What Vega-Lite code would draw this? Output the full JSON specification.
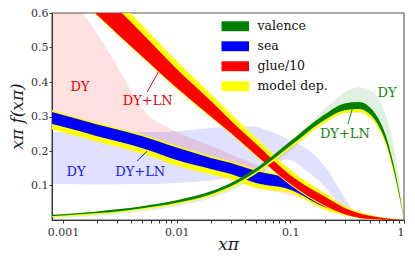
{
  "$schema": "https://vega.github.io/schema/vega-lite/v6.json",
  "width": 352,
  "height": 207,
  "autosize": {"type": "none"},
  "padding": {"left": 52, "top": 13, "right": 11, "bottom": 40},
  "config": {
    "font": "DejaVu Serif",
    "view": {"stroke": "#8c8c8c", "strokeWidth": 1.6},
    "axis": {"domainColor": "#333", "tickColor": "#333", "labelColor": "#333", "labelFont": "DejaVu Serif", "labelFontSize": 11, "grid": false, "titleFont": "DejaVu Serif", "titleFontStyle": "italic", "titleFontWeight": "normal", "titleColor": "#222"},
    "legend": {"labelFont": "DejaVu Serif"}
  },
  "datasets": {
    "pink": [
      {"x": 0.0008, "lo": 0.28, "hi": 0.73}, {"x": 0.001, "lo": 0.27, "hi": 0.68}, {"x": 0.0015, "lo": 0.258, "hi": 0.6},
      {"x": 0.00225, "lo": 0.243, "hi": 0.513}, {"x": 0.0034, "lo": 0.225, "hi": 0.414}, {"x": 0.0048, "lo": 0.208, "hi": 0.328},
      {"x": 0.0093, "lo": 0.172, "hi": 0.261}, {"x": 0.02, "lo": 0.135, "hi": 0.215}, {"x": 0.03, "lo": 0.115, "hi": 0.19},
      {"x": 0.05, "lo": 0.095, "hi": 0.16}, {"x": 0.1, "lo": 0.072, "hi": 0.11}, {"x": 0.2, "lo": 0.04, "hi": 0.062},
      {"x": 0.3, "lo": 0.022, "hi": 0.036}, {"x": 0.5, "lo": 0.008, "hi": 0.013}, {"x": 0.7, "lo": 0.003, "hi": 0.004}, {"x": 1, "lo": 0, "hi": 0}
    ],
    "lightblue": [
      {"x": 0.0008, "lo": 0.105, "hi": 0.255}, {"x": 0.001, "lo": 0.104, "hi": 0.255}, {"x": 0.002, "lo": 0.103, "hi": 0.255},
      {"x": 0.005, "lo": 0.104, "hi": 0.255}, {"x": 0.0085, "lo": 0.106, "hi": 0.256}, {"x": 0.0166, "lo": 0.112, "hi": 0.264},
      {"x": 0.03, "lo": 0.125, "hi": 0.27}, {"x": 0.046, "lo": 0.145, "hi": 0.272}, {"x": 0.065, "lo": 0.16, "hi": 0.258},
      {"x": 0.084, "lo": 0.172, "hi": 0.243}, {"x": 0.093, "lo": 0.175, "hi": 0.235}, {"x": 0.14, "lo": 0.142, "hi": 0.206},
      {"x": 0.21, "lo": 0.09, "hi": 0.148}, {"x": 0.27, "lo": 0.045, "hi": 0.09}, {"x": 0.36, "lo": 0.015, "hi": 0.026}, {"x": 0.42, "lo": 0.004, "hi": 0.005}
    ],
    "lightgreen": [
      {"x": 0.0008, "lo": 0.003, "hi": 0.01}, {"x": 0.001, "lo": 0.005, "hi": 0.012}, {"x": 0.002, "lo": 0.012, "hi": 0.02},
      {"x": 0.003, "lo": 0.017, "hi": 0.026}, {"x": 0.005, "lo": 0.025, "hi": 0.035}, {"x": 0.01, "lo": 0.04, "hi": 0.05},
      {"x": 0.02, "lo": 0.064, "hi": 0.076}, {"x": 0.03, "lo": 0.085, "hi": 0.098}, {"x": 0.05, "lo": 0.125, "hi": 0.142},
      {"x": 0.1, "lo": 0.2, "hi": 0.23}, {"x": 0.2, "lo": 0.28, "hi": 0.32}, {"x": 0.3, "lo": 0.31, "hi": 0.37},
      {"x": 0.4, "lo": 0.31, "hi": 0.385}, {"x": 0.5, "lo": 0.295, "hi": 0.377}, {"x": 0.6, "lo": 0.265, "hi": 0.35},
      {"x": 0.7, "lo": 0.22, "hi": 0.3}, {"x": 0.8, "lo": 0.155, "hi": 0.225}, {"x": 0.9, "lo": 0.08, "hi": 0.125}, {"x": 1, "lo": 0, "hi": 0}
    ],
    "glue": [
      {"x": 0.0008, "lo": 0.72, "hi": 0.8}, {"x": 0.001, "lo": 0.69, "hi": 0.77}, {"x": 0.002, "lo": 0.594, "hi": 0.675},
      {"x": 0.003, "lo": 0.54, "hi": 0.614}, {"x": 0.005, "lo": 0.473, "hi": 0.54}, {"x": 0.01, "lo": 0.383, "hi": 0.438},
      {"x": 0.02, "lo": 0.3, "hi": 0.345}, {"x": 0.03, "lo": 0.252, "hi": 0.288}, {"x": 0.05, "lo": 0.188, "hi": 0.22},
      {"x": 0.1, "lo": 0.104, "hi": 0.13}, {"x": 0.2, "lo": 0.042, "hi": 0.068}, {"x": 0.3, "lo": 0.017, "hi": 0.035},
      {"x": 0.5, "lo": 0.003, "hi": 0.012}, {"x": 0.7, "lo": 0.001, "hi": 0.004}, {"x": 1, "lo": 0, "hi": 0}
    ],
    "glueY": [
      {"x": 0.0008, "lo": 0.717, "hi": 0.825}, {"x": 0.001, "lo": 0.687, "hi": 0.795}, {"x": 0.002, "lo": 0.591, "hi": 0.7},
      {"x": 0.003, "lo": 0.537, "hi": 0.639}, {"x": 0.005, "lo": 0.47, "hi": 0.564}, {"x": 0.01, "lo": 0.38, "hi": 0.46},
      {"x": 0.02, "lo": 0.297, "hi": 0.365}, {"x": 0.03, "lo": 0.249, "hi": 0.307}, {"x": 0.05, "lo": 0.185, "hi": 0.238},
      {"x": 0.1, "lo": 0.101, "hi": 0.145}, {"x": 0.2, "lo": 0.039, "hi": 0.078}, {"x": 0.3, "lo": 0.015, "hi": 0.041},
      {"x": 0.5, "lo": 0.002, "hi": 0.015}, {"x": 0.7, "lo": 0.0005, "hi": 0.005}, {"x": 1, "lo": 0, "hi": 0}
    ],
    "sea": [
      {"x": 0.0008, "lo": 0.278, "hi": 0.313}, {"x": 0.001, "lo": 0.27, "hi": 0.304}, {"x": 0.002, "lo": 0.243, "hi": 0.277},
      {"x": 0.003, "lo": 0.228, "hi": 0.262}, {"x": 0.005, "lo": 0.208, "hi": 0.243}, {"x": 0.01, "lo": 0.174, "hi": 0.21},
      {"x": 0.02, "lo": 0.148, "hi": 0.18}, {"x": 0.03, "lo": 0.133, "hi": 0.165}, {"x": 0.05, "lo": 0.107, "hi": 0.142},
      {"x": 0.1, "lo": 0.088, "hi": 0.118}, {"x": 0.2, "lo": 0.038, "hi": 0.058}, {"x": 0.3, "lo": 0.02, "hi": 0.035},
      {"x": 0.5, "lo": 0.006, "hi": 0.013}, {"x": 0.7, "lo": 0.001, "hi": 0.004}, {"x": 1, "lo": 0, "hi": 0}
    ],
    "seaY": [
      {"x": 0.0008, "lo": 0.262, "hi": 0.318}, {"x": 0.001, "lo": 0.254, "hi": 0.309}, {"x": 0.002, "lo": 0.227, "hi": 0.282},
      {"x": 0.003, "lo": 0.212, "hi": 0.267}, {"x": 0.005, "lo": 0.192, "hi": 0.248}, {"x": 0.01, "lo": 0.158, "hi": 0.215},
      {"x": 0.02, "lo": 0.132, "hi": 0.185}, {"x": 0.03, "lo": 0.118, "hi": 0.17}, {"x": 0.05, "lo": 0.093, "hi": 0.147},
      {"x": 0.1, "lo": 0.078, "hi": 0.122}, {"x": 0.2, "lo": 0.03, "hi": 0.061}, {"x": 0.3, "lo": 0.014, "hi": 0.037},
      {"x": 0.5, "lo": 0.002, "hi": 0.014}, {"x": 0.7, "lo": 0, "hi": 0.005}, {"x": 1, "lo": 0, "hi": 0}
    ],
    "val": [
      {"x": 0.0008, "lo": 0.011, "hi": 0.015}, {"x": 0.001, "lo": 0.013, "hi": 0.017}, {"x": 0.002, "lo": 0.02, "hi": 0.025},
      {"x": 0.003, "lo": 0.025, "hi": 0.031}, {"x": 0.005, "lo": 0.034, "hi": 0.04}, {"x": 0.01, "lo": 0.05, "hi": 0.057},
      {"x": 0.02, "lo": 0.075, "hi": 0.083}, {"x": 0.03, "lo": 0.098, "hi": 0.107}, {"x": 0.05, "lo": 0.14, "hi": 0.15},
      {"x": 0.1, "lo": 0.215, "hi": 0.228}, {"x": 0.2, "lo": 0.29, "hi": 0.306}, {"x": 0.3, "lo": 0.318, "hi": 0.338},
      {"x": 0.4, "lo": 0.322, "hi": 0.342}, {"x": 0.5, "lo": 0.307, "hi": 0.327}, {"x": 0.6, "lo": 0.272, "hi": 0.292},
      {"x": 0.7, "lo": 0.222, "hi": 0.24}, {"x": 0.8, "lo": 0.153, "hi": 0.168}, {"x": 0.9, "lo": 0.077, "hi": 0.087}, {"x": 1, "lo": 0, "hi": 0}
    ],
    "valY": [
      {"x": 0.0008, "lo": 0.008, "hi": 0.014}, {"x": 0.001, "lo": 0.01, "hi": 0.016}, {"x": 0.002, "lo": 0.017, "hi": 0.024},
      {"x": 0.003, "lo": 0.022, "hi": 0.03}, {"x": 0.005, "lo": 0.031, "hi": 0.039}, {"x": 0.01, "lo": 0.046, "hi": 0.056},
      {"x": 0.02, "lo": 0.07, "hi": 0.082}, {"x": 0.03, "lo": 0.092, "hi": 0.106}, {"x": 0.05, "lo": 0.134, "hi": 0.149},
      {"x": 0.1, "lo": 0.208, "hi": 0.227}, {"x": 0.2, "lo": 0.282, "hi": 0.305}, {"x": 0.3, "lo": 0.31, "hi": 0.337},
      {"x": 0.4, "lo": 0.313, "hi": 0.341}, {"x": 0.5, "lo": 0.298, "hi": 0.326}, {"x": 0.6, "lo": 0.263, "hi": 0.291},
      {"x": 0.7, "lo": 0.213, "hi": 0.239}, {"x": 0.8, "lo": 0.146, "hi": 0.17}, {"x": 0.9, "lo": 0.072, "hi": 0.09}, {"x": 1, "lo": 0, "hi": 0}
    ]
  },
  "layer": [
    {"data": {"name": "pink"}, "mark": {"type": "area", "clip": true, "interpolate": "monotone", "color": "#ff0000", "opacity": 0.12},
     "encoding": {"x": {"field": "x", "type": "quantitative", "scale": {"type": "log", "domain": [0.0008, 1], "nice": false},
        "axis": {"values": [0.001, 0.002, 0.003, 0.004, 0.005, 0.006, 0.007, 0.008, 0.009, 0.01, 0.02, 0.03, 0.04, 0.05, 0.06, 0.07, 0.08, 0.09, 0.1, 0.2, 0.3, 0.4, 0.5, 0.6, 0.7, 0.8, 0.9, 1],
          "labelExpr": "indexof([0.001,0.01,0.1,1], datum.value) >= 0 ? (datum.value == 1 ? '1' : format(datum.value, '.3~f')) : ''",
          "tickSize": 3, "labelPadding": 3, "labelFontSize": 11, "labelOverlap": false, "title": "xπ", "titleFontSize": 17, "titleX": 176, "titleY": 29, "titleBaseline": "alphabetic", "titleAlign": "center"}},
       "y": {"field": "hi", "type": "quantitative", "scale": {"domain": [0, 0.6], "nice": false},
        "axis": {"values": [0.1, 0.2, 0.3, 0.4, 0.5, 0.6], "format": ".1f", "tickSize": 3, "labelPadding": 1, "title": "xπ f(xπ)", "titleFontSize": 17, "titleAngle": -90, "titleX": -35, "titleY": 103, "titleAlign": "center", "titleBaseline": "middle"}},
       "y2": {"field": "lo"}}},
    {"data": {"name": "lightblue"}, "mark": {"type": "area", "clip": true, "interpolate": "monotone", "color": "#0000ff", "opacity": 0.12},
     "encoding": {"x": {"field": "x", "type": "quantitative"}, "y": {"field": "hi", "type": "quantitative"}, "y2": {"field": "lo"}}},
    {"data": {"name": "lightgreen"}, "mark": {"type": "area", "clip": true, "interpolate": "monotone", "color": "#008000", "opacity": 0.12},
     "encoding": {"x": {"field": "x", "type": "quantitative"}, "y": {"field": "hi", "type": "quantitative"}, "y2": {"field": "lo"}}},
    {"data": {"name": "seaY"}, "mark": {"type": "area", "clip": true, "interpolate": "monotone"},
     "encoding": {"x": {"field": "x", "type": "quantitative"}, "y": {"field": "hi", "type": "quantitative"}, "y2": {"field": "lo"},
       "color": {"datum": "model dep.", "type": "nominal",
         "scale": {"domain": ["valence", "sea", "glue/10", "model dep."], "range": ["#008000", "#0000ff", "#ff0000", "#ffff00"]},
         "legend": {"orient": "none", "legendX": 177, "legendY": 7, "padding": 0, "title": null, "symbolType": "M-2.5,-0.9H2.5V0.9H-2.5Z", "symbolSize": 121, "symbolOpacity": 1, "symbolStrokeWidth": 0, "labelFontSize": 12.5, "labelColor": "#111", "labelOffset": 16, "rowPadding": 7}}}},
    {"data": {"name": "sea"}, "mark": {"type": "area", "clip": true, "interpolate": "monotone"},
     "encoding": {"x": {"field": "x", "type": "quantitative"}, "y": {"field": "hi", "type": "quantitative"}, "y2": {"field": "lo"}, "color": {"datum": "sea", "type": "nominal"}}},
    {"data": {"name": "glueY"}, "mark": {"type": "area", "clip": true, "interpolate": "monotone"},
     "encoding": {"x": {"field": "x", "type": "quantitative"}, "y": {"field": "hi", "type": "quantitative"}, "y2": {"field": "lo"}, "color": {"datum": "model dep.", "type": "nominal"}}},
    {"data": {"name": "glue"}, "mark": {"type": "area", "clip": true, "interpolate": "monotone"},
     "encoding": {"x": {"field": "x", "type": "quantitative"}, "y": {"field": "hi", "type": "quantitative"}, "y2": {"field": "lo"}, "color": {"datum": "glue/10", "type": "nominal"}}},
    {"data": {"name": "valY"}, "mark": {"type": "area", "clip": true, "interpolate": "monotone"},
     "encoding": {"x": {"field": "x", "type": "quantitative"}, "y": {"field": "hi", "type": "quantitative"}, "y2": {"field": "lo"}, "color": {"datum": "model dep.", "type": "nominal"}}},
    {"data": {"name": "val"}, "mark": {"type": "area", "clip": true, "interpolate": "monotone"},
     "encoding": {"x": {"field": "x", "type": "quantitative"}, "y": {"field": "hi", "type": "quantitative"}, "y2": {"field": "lo"}, "color": {"datum": "valence", "type": "nominal"}}},
    {"data": {"values": [{"x": 0.0055, "y": 0.371, "x2": 0.0069, "y2": 0.429}]}, "mark": {"type": "rule", "color": "#ee0000", "strokeWidth": 1},
     "encoding": {"x": {"field": "x", "type": "quantitative"}, "y": {"field": "y", "type": "quantitative"}, "x2": {"field": "x2"}, "y2": {"field": "y2"}}},
    {"data": {"values": [{"x": 0.0045, "y": 0.171, "x2": 0.0055, "y2": 0.2}]}, "mark": {"type": "rule", "color": "#1a1aee", "strokeWidth": 1},
     "encoding": {"x": {"field": "x", "type": "quantitative"}, "y": {"field": "y", "type": "quantitative"}, "x2": {"field": "x2"}, "y2": {"field": "y2"}}},
    {"data": {"values": [{"x": 0.321, "y": 0.278, "x2": 0.356, "y2": 0.33}]}, "mark": {"type": "rule", "color": "#118811", "strokeWidth": 1},
     "encoding": {"x": {"field": "x", "type": "quantitative"}, "y": {"field": "y", "type": "quantitative"}, "x2": {"field": "x2"}, "y2": {"field": "y2"}}},
    {"data": {"values": [{"x": 0.00141, "y": 0.386, "t": "DY"}, {"x": 0.00557, "y": 0.345, "t": "DY+LN"}]},
     "mark": {"type": "text", "color": "#ee0000", "fontSize": 13, "font": "DejaVu Serif", "baseline": "middle", "align": "center"},
     "encoding": {"x": {"field": "x", "type": "quantitative"}, "y": {"field": "y", "type": "quantitative"}, "text": {"field": "t"}}},
    {"data": {"values": [{"x": 0.0013, "y": 0.139, "t": "DY"}, {"x": 0.00478, "y": 0.139, "t": "DY+LN"}]},
     "mark": {"type": "text", "color": "#1a1aee", "fontSize": 13, "font": "DejaVu Serif", "baseline": "middle", "align": "center"},
     "encoding": {"x": {"field": "x", "type": "quantitative"}, "y": {"field": "y", "type": "quantitative"}, "text": {"field": "t"}}},
    {"data": {"values": [{"x": 0.71, "y": 0.368, "t": "DY"}, {"x": 0.302, "y": 0.25, "t": "DY+LN"}]},
     "mark": {"type": "text", "color": "#118811", "fontSize": 13, "font": "DejaVu Serif", "baseline": "middle", "align": "center"},
     "encoding": {"x": {"field": "x", "type": "quantitative"}, "y": {"field": "y", "type": "quantitative"}, "text": {"field": "t"}}}
  ]
}
